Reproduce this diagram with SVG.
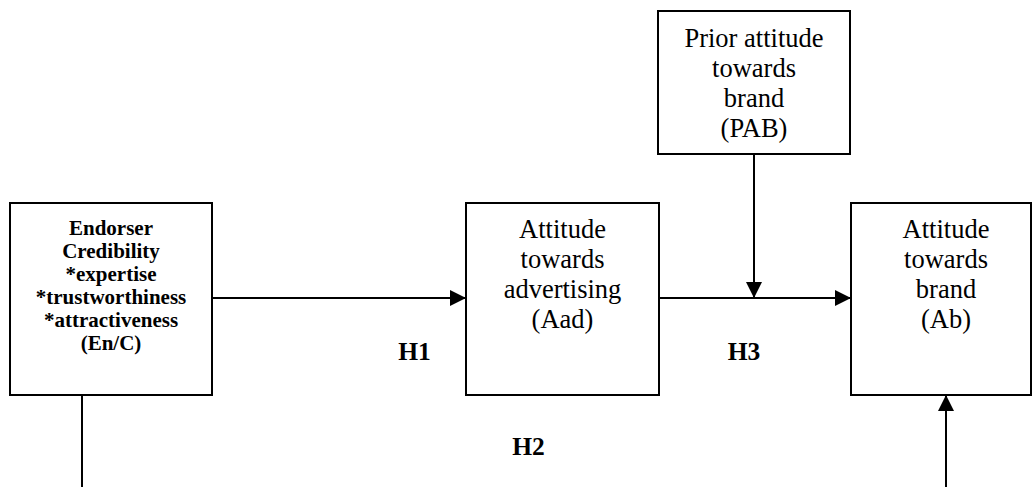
<svg xmlns="http://www.w3.org/2000/svg" width="1032" height="487" viewBox="0 0 1032 487">
  <style>
    text { font-family: "Liberation Serif", Tinos, "Times New Roman", "DejaVu Serif", "Noto Serif", serif; fill: #000000; text-anchor: middle; }
    .box { fill: #ffffff; stroke: #000000; stroke-width: 2; }
    .link { fill: none; stroke: #000000; stroke-width: 2; }
    .lbl { font-size: 26.5px; }
    .lblb { font-size: 21px; font-weight: bold; }
    .hyp { font-size: 25.5px; font-weight: bold; }
  </style>
  <defs>
    <marker id="arrow" markerUnits="userSpaceOnUse" markerWidth="17" markerHeight="16" refX="16" refY="8" orient="auto">
      <path d="M0,0 L16,8 L0,16 Z" fill="#000000"/>
    </marker>
  </defs>
  <rect width="1032" height="487" fill="#ffffff"/>

  <!-- connectors -->
  <g id="connectors">
    <line class="link" x1="212" y1="298" x2="466" y2="298" marker-end="url(#arrow)"/>
    <line class="link" x1="659" y1="298" x2="851" y2="298" marker-end="url(#arrow)"/>
    <line class="link" x1="754" y1="154" x2="754" y2="298" marker-end="url(#arrow)"/>
    <line class="link" x1="946" y1="487" x2="946" y2="395" marker-end="url(#arrow)"/>
    <line class="link" x1="82" y1="395" x2="82" y2="487"/>
  </g>

  <!-- endorser credibility -->
  <g id="node-enc">
    <rect class="box" x="10" y="203" width="202" height="192"/>
    <text class="lblb" x="111" y="235">Endorser</text>
    <text class="lblb" x="111" y="258">Credibility</text>
    <text class="lblb" x="111" y="281">*expertise</text>
    <text class="lblb" x="111" y="304">*trustworthiness</text>
    <text class="lblb" x="111" y="327">*attractiveness</text>
    <text class="lblb" x="111" y="350">(En/C)</text>
  </g>

  <!-- attitude towards advertising -->
  <g id="node-aad">
    <rect class="box" x="466" y="203" width="193" height="192"/>
    <text class="lbl" x="562.5" y="238">Attitude</text>
    <text class="lbl" x="562.5" y="268">towards</text>
    <text class="lbl" x="562.5" y="298">advertising</text>
    <text class="lbl" x="562.5" y="328">(Aad)</text>
  </g>

  <!-- prior attitude towards brand -->
  <g id="node-pab">
    <rect class="box" x="658" y="11" width="192" height="143"/>
    <text class="lbl" x="754" y="47">Prior attitude</text>
    <text class="lbl" x="754" y="77">towards</text>
    <text class="lbl" x="754" y="107">brand</text>
    <text class="lbl" x="754" y="137">(PAB)</text>
  </g>

  <!-- attitude towards brand -->
  <g id="node-ab">
    <rect class="box" x="851" y="203" width="180" height="192"/>
    <text class="lbl" x="946" y="238">Attitude</text>
    <text class="lbl" x="946" y="268">towards</text>
    <text class="lbl" x="946" y="298">brand</text>
    <text class="lbl" x="946" y="328">(Ab)</text>
  </g>

  <!-- hypothesis labels -->
  <g id="hypotheses">
    <text class="hyp" x="414.5" y="360">H1</text>
    <text class="hyp" x="528.5" y="455">H2</text>
    <text class="hyp" x="744" y="360">H3</text>
  </g>
</svg>
